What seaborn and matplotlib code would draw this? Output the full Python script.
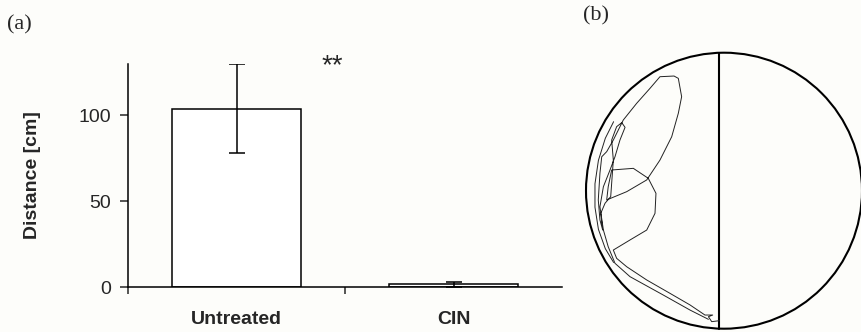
import matplotlib.pyplot as plt
import matplotlib.patches as mpatches
from matplotlib.ticker import FixedLocator
import pandas as pd
import seaborn as sns

# panel (a): mean distance travelled in the drug-paired side
groups = ["Untreated", "CIN"]
distance_mean = [104, 1.5]
distance_err = [26, 1.5]
y_ticks = [0, 50, 100]

# panel (b): example track in the arena (units of arena radius)
track_x = [-0.034, -0.089, -0.113, -0.082, -0.138, -0.246, -0.391, -0.560, -0.705, -0.778,
           -0.802, -0.681, -0.560, -0.500, -0.493, -0.549, -0.657, -0.814, -0.839, -0.850,
           -0.705, -0.560, -0.464, -0.379, -0.331, -0.307, -0.331, -0.362, -0.464, -0.536,
           -0.633, -0.730, -0.802, -0.850, -0.886, -0.899, -0.911, -0.899, -0.879, -0.893,
           -0.862, -0.821, -0.802, -0.814, -0.778, -0.741, -0.717, -0.754, -0.790, -0.826,
           -0.874, -0.899, -0.874, -0.839, -0.790, -0.681, -0.440, -0.246, -0.113]
track_y = [-0.942, -0.949, -0.913, -0.901, -0.901, -0.828, -0.744, -0.647, -0.551, -0.490,
           -0.430, -0.357, -0.285, -0.164, -0.019, 0.090, 0.162, 0.150, 0.029, -0.067,
           -0.007, 0.078, 0.222, 0.391, 0.561, 0.681, 0.814, 0.831, 0.826, 0.742,
           0.633, 0.512, 0.367, 0.283, 0.246, 0.126, -0.067, -0.212, -0.285, -0.164,
           -0.091, -0.043, 0.222, 0.367, 0.464, 0.493, 0.459, 0.367, 0.246, 0.150,
           0.029, -0.116, -0.285, -0.406, -0.526, -0.623, -0.756, -0.865, -0.932]
wall_x = [-0.80, -0.86, -0.91, -0.935, -0.935, -0.91, -0.86, -0.80]
wall_y = [0.50, 0.38, 0.22, 0.05, -0.12, -0.28, -0.42, -0.52]
divider_x = -0.035

BG = "#fdfdfa"


def main() -> None:
    sns.set_theme(style="white")
    plt.rcParams["font.family"] = ["Liberation Sans", "DejaVu Sans"]

    fig = plt.figure(figsize=(8.61, 3.32), dpi=100, facecolor=BG)
    W, H = 861, 332

    # ---- panel (a) ----
    ax = fig.add_axes([128 / W, (H - 287) / H, 434 / W, 223 / H])
    ax.set_facecolor(BG)
    df = pd.DataFrame({"group": groups, "distance": distance_mean})
    sns.barplot(
        data=df, x="group", y="distance", ax=ax,
        color="white", saturation=1, edgecolor="black", linewidth=1.1,
        width=0.59, errorbar=None,
    )
    ax.errorbar(
        range(len(groups)), distance_mean, yerr=distance_err,
        fmt="none", ecolor="black", elinewidth=1.1, capsize=6, capthick=1.1,
    )
    ax.set_xlim(-0.5, 1.5)
    ax.set_ylim(0, 130)
    ax.set_yticks(y_ticks)
    ax.xaxis.set_minor_locator(FixedLocator([-0.5, 0.5]))
    ax.tick_params(axis="x", which="major", length=0, pad=17, labelsize=14)
    ax.tick_params(axis="x", which="minor", length=5, width=1.1, direction="out", bottom=True)
    ax.tick_params(axis="y", length=6, width=1.1, direction="out", left=True, pad=6, labelsize=14)
    for lab in ax.get_xticklabels():
        lab.set_fontweight("bold")
    ax.set_xlabel("")
    ax.set_ylabel("Distance [cm]", fontsize=14, fontweight="bold")
    ax.yaxis.set_label_coords(-0.2, 0.5)
    for side in ("top", "right"):
        ax.spines[side].set_visible(False)
    for side in ("left", "bottom"):
        ax.spines[side].set_color("black")
        ax.spines[side].set_linewidth(1.1)
    ax.text(0.44, 129, "**", ha="center", va="center", fontsize=20, clip_on=False)

    # ---- panel (b) ----
    cx, cy, r = 724, 190.7, 138
    axb = fig.add_axes([580 / W, 0, 281 / W, 292 / H])
    axb.set_xlim((580 - cx) / r, (861 - cx) / r)
    axb.set_ylim((cy - 332) / r, (cy - 40) / r)
    axb.axis("off")
    axb.add_patch(mpatches.Circle((0, 0), 1, fill=False, edgecolor="black", linewidth=1.5, clip_on=False))
    axb.plot([divider_x, divider_x], [-1, 1], color="black", linewidth=1.5, clip_on=False)
    axb.plot(track_x, track_y, color="#222222", linewidth=0.7)
    axb.plot(wall_x, wall_y, color="#222222", linewidth=0.7)

    # panel letters
    fig.text(7 / W, 1 - 25 / H, "(a)", family=["Liberation Serif"], fontsize=16, va="center", ha="left")
    fig.text(583 / W, 1 - 16 / H, "(b)", family=["Liberation Serif"], fontsize=16, va="center", ha="left")

    fig.savefig("out.png", dpi=100, facecolor=BG)
    plt.close(fig)


if __name__ == "__main__":
    main()
